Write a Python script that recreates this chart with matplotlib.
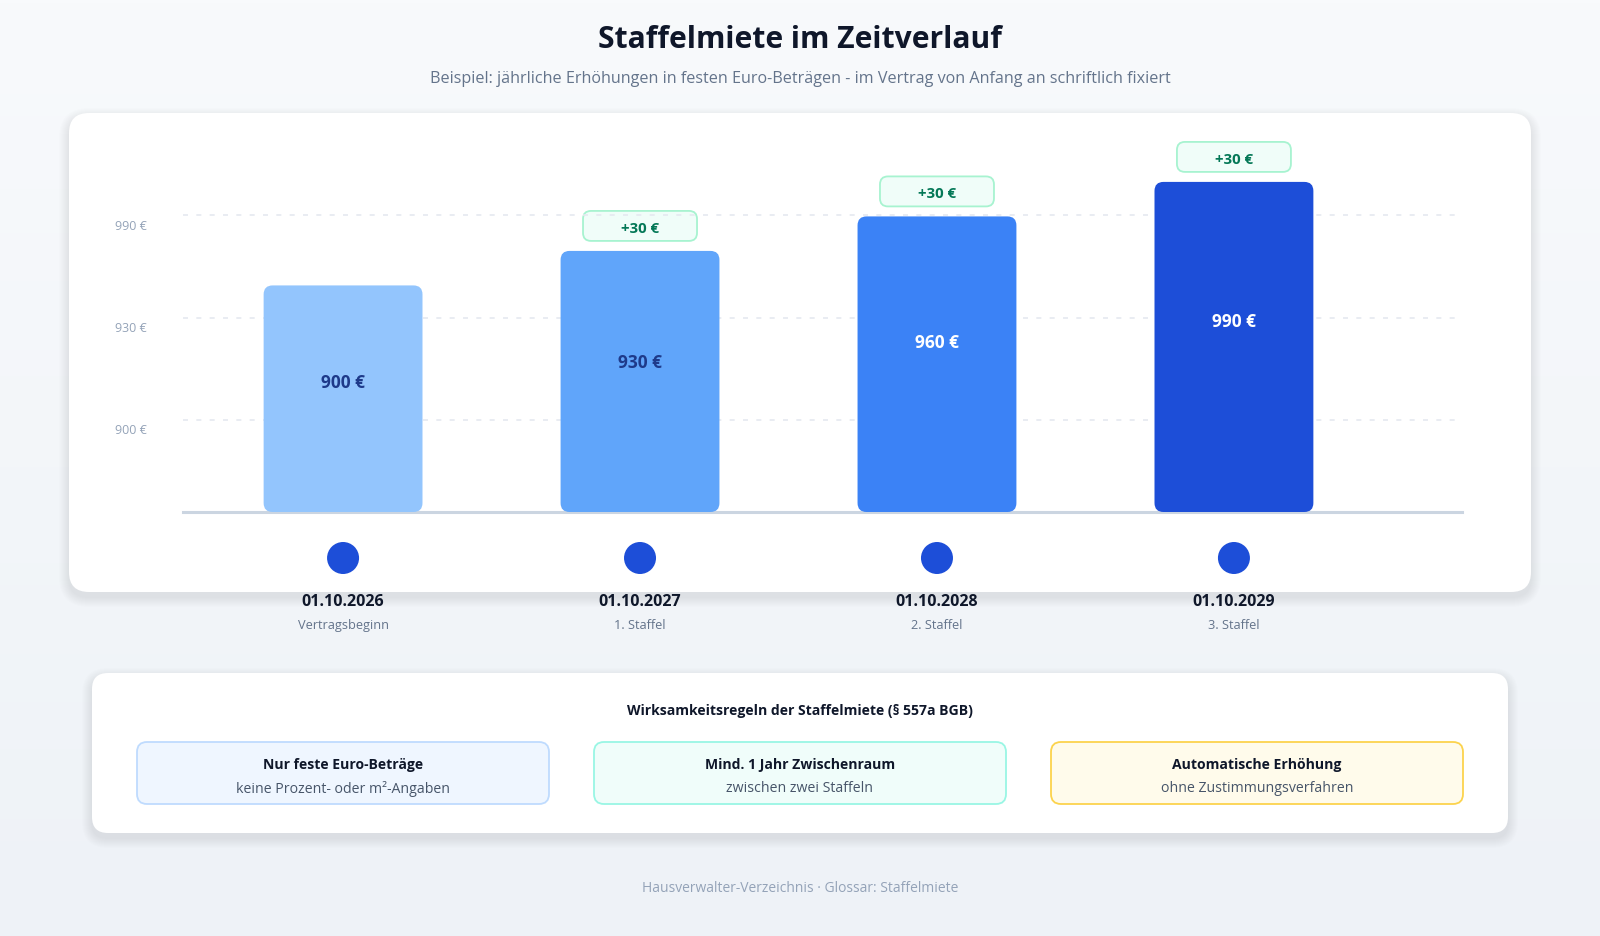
import numpy as np
import matplotlib
matplotlib.use("Agg")
import matplotlib.pyplot as plt
from matplotlib.patches import FancyBboxPatch, Circle
from matplotlib.colors import LinearSegmentedColormap

plt.rcParams['font.family'] = ['Open Sans', 'DejaVu Sans']

# --- data ---
dates = ['01.10.2026', '01.10.2027', '01.10.2028', '01.10.2029']
stages = ['Vertragsbeginn', '1. Staffel', '2. Staffel', '3. Staffel']
rents = [900, 930, 960, 990]
steps = [0, 30, 30, 30]
bar_colors = ['#93C5FD', '#60A5FA', '#3B82F6', '#1D4ED8']
value_colors = ['#1E3A8A', '#1E3A8A', '#FFFFFF', '#FFFFFF']

# the dashed guide lines of the original do not sit on their labelled values
grid_values = [783, 872, 961]
grid_labels = ['900 €', '930 €', '990 €']
y_floor, y_ceil = 703, 1036

rule_titles = ['Nur feste Euro-Beträge', 'Mind. 1 Jahr Zwischenraum', 'Automatische Erhöhung']
rule_texts = ['keine Prozent- oder m²-Angaben', 'zwischen zwei Staffeln', 'ohne Zustimmungsverfahren']
rule_faces = ['#EFF6FF', '#F0FDFA', '#FFFBEB']
rule_edges = ['#BFDBFE', '#99F6E4', '#FCD34D']

title = 'Staffelmiete im Zeitverlauf'
subtitle = 'Beispiel: jährliche Erhöhungen in festen Euro-Beträgen - im Vertrag von Anfang an schriftlich fixiert'
rules_heading = 'Wirksamkeitsregeln der Staffelmiete (§ 557a BGB)'
footer = 'Hausverwalter-Verzeichnis · Glossar: Staffelmiete'

W, H = 1600, 937
fig = plt.figure(figsize=(W / 100, H / 100), dpi=100)

# background axes in pixel units, y going down
bg = fig.add_axes([0, 0, 1, 1], zorder=0)
bg.set_xlim(0, W)
bg.set_ylim(H, 0)
bg.axis('off')
cmap = LinearSegmentedColormap.from_list('page', ['#F8FAFC', '#EEF2F7'])
bg.imshow(np.linspace(0, 1, 256)[:, None], cmap=cmap, extent=(0, W, H, 0), aspect='auto', zorder=0)


def card(x0, y0, x1, y1, r, face='white', edge='none', lw=0, shadow=True, z=2):
    if shadow:
        for k in range(1, 11):
            bg.add_patch(FancyBboxPatch((x0 - k, y0 - k + 5), x1 - x0 + 2 * k, y1 - y0 + 2 * k,
                                        boxstyle=f'round,pad=0,rounding_size={r + k}',
                                        fc='#1E293B', ec='none', alpha=0.007, zorder=z - 1))
    bg.add_patch(FancyBboxPatch((x0, y0), x1 - x0, y1 - y0,
                                boxstyle=f'round,pad=0,rounding_size={r}',
                                fc=face, ec=edge, lw=lw, zorder=z))


# header
bg.text(W / 2, 40, title, ha='center', va='center', fontsize=21.6, fontweight='bold', color='#0F172A')
bg.text(W / 2, 79, subtitle, ha='center', va='center', fontsize=11.65, color='#64748B')

# chart card
card(69, 114, 1531, 593, 20)

# bar axes
ax_l, ax_r, ax_b, ax_t = 183, 1462, 513, 130
ax = fig.add_axes([ax_l / W, 1 - ax_b / H, (ax_r - ax_l) / W, (ax_b - ax_t) / H], zorder=3)
ax.set_facecolor('none')
for s in ax.spines.values():
    s.set_visible(False)
x = np.arange(len(rents))
ax.set_xlim(-0.539, 3.768)
ax.set_ylim(y_floor, y_ceil)
ax.set_xticks([])
ax.set_yticks([])

for gv, gl in zip(grid_values, grid_labels):
    ax.axhline(gv, color='#E5E9F0', lw=1.2, linestyle=(0, (3, 5)), zorder=1)
    ax.annotate(gl, xy=(0, gv), xycoords=('axes fraction', 'data'), xytext=(-36, -10),
                textcoords='offset pixels', ha='right', va='center', fontsize=9, color='#94A3B8')

ax.axhline(y_floor, color='#CBD5E1', lw=2.2, zorder=2, clip_on=False)

bar_w = 0.535
px_x = (ax_r - ax_l) / (ax.get_xlim()[1] - ax.get_xlim()[0])
px_y = (ax_b - ax_t) / (y_ceil - y_floor)
radius = 9 / px_x
for i, (v, c, tc) in enumerate(zip(rents, bar_colors, value_colors)):
    ax.add_patch(FancyBboxPatch((x[i] - bar_w / 2, y_floor), bar_w, v - y_floor,
                                boxstyle=f'round,pad=0,rounding_size={radius}',
                                mutation_aspect=px_x / px_y, fc=c, ec='none', zorder=3))
    ax.annotate(f'{v} €', xy=(x[i], v - 0.41 * (v - y_floor)), xytext=(0, -4),
                textcoords='offset pixels', ha='center', va='center',
                fontsize=12.5, fontweight='bold', color=tc, zorder=4)

# convert data positions to page pixels
to_page = ax.transData + bg.transData.inverted()
for i, v in enumerate(rents):
    cx, top = to_page.transform((x[i], v))
    if steps[i]:
        bg.add_patch(FancyBboxPatch((cx - 57, top - 40), 114, 30,
                                    boxstyle='round,pad=0,rounding_size=8',
                                    fc='#F0FDF9', ec='#A7F3D0', lw=1.3, zorder=5))
        bg.text(cx, top - 23, f'+{steps[i]} €', ha='center', va='center', fontsize=10.8,
                fontweight='bold', color='#047857', zorder=6)
    bg.add_patch(Circle((cx, 559), 16, fc='#1D4ED8', ec='none', zorder=5))
    bg.text(cx, 602, dates[i], ha='center', va='center', fontsize=11.5, fontweight='bold',
            color='#0F172A', zorder=6)
    bg.text(cx, 626, stages[i], ha='center', va='center', fontsize=9.2, color='#64748B', zorder=6)

# rules card
card(92, 674, 1508, 834, 16)
bg.text(W / 2, 711, rules_heading, ha='center', va='center', fontsize=10.1, fontweight='bold',
        color='#0F172A', zorder=6)
box_x = [137, 594, 1051]
for bx, t1, t2, fc, ec in zip(box_x, rule_titles, rule_texts, rule_faces, rule_edges):
    card(bx, 743, bx + 412, 805, 10, face=fc, edge=ec, lw=1.3, shadow=False, z=4)
    bg.text(bx + 206, 765, t1, ha='center', va='center', fontsize=10.1, fontweight='bold',
            color='#0F172A', zorder=6)
    bg.text(bx + 206, 789, t2, ha='center', va='center', fontsize=10.2, color='#475569', zorder=6)

bg.text(W / 2, 889, footer, ha='center', va='center', fontsize=10, color='#94A3B8')

fig.savefig('out.png', dpi=100)
